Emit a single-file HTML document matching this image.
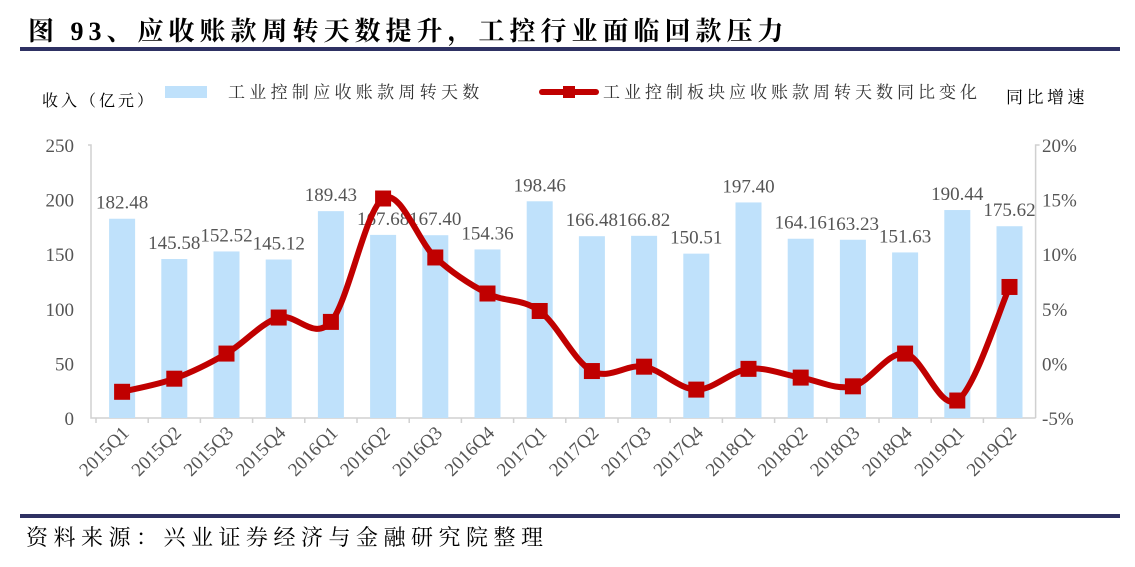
<!DOCTYPE html>
<html><head><meta charset="utf-8"><style>
body{margin:0;background:#fff;width:1135px;height:562px;overflow:hidden;font-family:"Liberation Serif","Noto Serif CJK SC",serif}
</style></head><body>
<svg width="1135" height="562" xmlns="http://www.w3.org/2000/svg">
<text x="28" y="40" font-size="26" font-weight="bold" letter-spacing="5" fill="#000" font-family="Liberation Serif, Noto Serif CJK SC, serif">图 93、应收账款周转天数提升，工控行业面临回款压力</text>
<rect x="20" y="47" width="1100" height="4" fill="#2e3163"/>
<rect x="20" y="514" width="1100" height="4" fill="#2e3163"/>
<text x="26" y="545" font-size="22" letter-spacing="5.5" fill="#000" font-family="Liberation Serif, Noto Serif CJK SC, serif">资料来源：兴业证券经济与金融研究院整理</text>
<text x="42" y="106" font-size="16" letter-spacing="3" fill="#000" font-family="Liberation Serif, Noto Serif CJK SC, serif">收入（亿元）</text>
<text x="1006" y="103" font-size="17" letter-spacing="3.5" fill="#000" font-family="Liberation Serif, Noto Serif CJK SC, serif">同比增速</text>
<rect x="165" y="86" width="42" height="12" fill="#bfe1fb"/>
<text x="228" y="98" font-size="17" letter-spacing="4.3" fill="#333" font-family="Liberation Serif, Noto Serif CJK SC, serif">工业控制应收账款周转天数</text>
<line x1="542" y1="92" x2="596" y2="92" stroke="#c00000" stroke-width="6" stroke-linecap="round"/>
<rect x="563" y="86" width="12" height="12" fill="#c00000"/>
<text x="603" y="98" font-size="17" letter-spacing="4" fill="#333" font-family="Liberation Serif, Noto Serif CJK SC, serif">工业控制板块应收账款周转天数同比变化</text>
<g id="plot"></g>
</svg>
<script>
const categories=["2015Q1","2015Q2","2015Q3","2015Q4","2016Q1","2016Q2","2016Q3","2016Q4","2017Q1","2017Q2","2017Q3","2017Q4","2018Q1","2018Q2","2018Q3","2018Q4","2019Q1","2019Q2"];
const barValues=[182.48,145.58,152.52,145.12,189.43,167.68,167.40,154.36,198.46,166.48,166.82,150.51,197.40,164.16,163.23,151.63,190.44,175.62];
const growthValues=[-2.6,-1.4,0.9,4.2,3.8,15.1,9.7,6.4,4.8,-0.7,-0.3,-2.4,-0.5,-1.3,-2.1,0.9,-3.4,7.0];
const leftTicks=[0,50,100,150,200,250];
const rightTicks=[-5,0,5,10,15,20];
const NS="http://www.w3.org/2000/svg";
const g=document.getElementById('plot');
const x0=96,band=52.2,yB=418,yT=145;
const xC=i=>x0+band*(i+0.5);
const yL=v=>yB-(v/250)*(yB-yT);
const yR=v=>yB-((v+5)/25)*(yB-yT);
function el(t,a){const e=document.createElementNS(NS,t);for(const k in a)e.setAttribute(k,a[k]);g.appendChild(e);return e;}
leftTicks.forEach(v=>{const t=el('text',{x:74,y:yL(v)+7,'font-size':19,fill:'#555','text-anchor':'end'});t.textContent=v;

});
rightTicks.forEach(v=>{const t=el('text',{x:1042,y:yR(v)+7,'font-size':19,fill:'#555'});t.textContent=v+'%';

});
const ax=el('path',{d:`M88 ${yT}H91V${yB}H${x0+band*18}`,stroke:'#d0d0d0','stroke-width':1.5,fill:'none'});


const rax=el('path',{d:`M${x0+band*18} ${yB}V${yT}H${x0+band*18+4}`,stroke:'#d0d0d0','stroke-width':1.5,fill:'none'});


categories.forEach((c,i)=>{
 const tk=el('line',{x1:x0+band*i,x2:x0+band*i,y1:yB,y2:yB+5,stroke:'#d0d0d0','stroke-width':1.5});
 
 
 const b=el('rect',{x:xC(i)-13,y:yL(barValues[i]),width:26,height:yB-yL(barValues[i]),fill:'#bfe1fb'});
 
 
 const l=el('text',{x:xC(i),y:yL(barValues[i])-10,'font-size':19,fill:'#555','text-anchor':'middle'});l.textContent=barValues[i].toFixed(2);
 
 
 const cx=xC(i)+8,cy=yB+16;
 const t=el('text',{x:cx,y:cy,'font-size':19,fill:'#555','text-anchor':'end',transform:`rotate(-45 ${cx} ${cy})`});t.textContent=c;
 
 
});
const pts=growthValues.map((v,i)=>[xC(i),yR(v)]);
let d=`M${pts[0][0]} ${pts[0][1]}`;
for(let i=0;i<pts.length-1;i++){const p0=pts[Math.max(0,i-1)],p1=pts[i],p2=pts[i+1],p3=pts[Math.min(pts.length-1,i+2)];
 d+=` C${p1[0]+(p2[0]-p0[0])/6} ${p1[1]+(p2[1]-p0[1])/6} ${p2[0]-(p3[0]-p1[0])/6} ${p2[1]-(p3[1]-p1[1])/6} ${p2[0]} ${p2[1]}`;}
const ln=el('path',{d:d,stroke:'#c00000','stroke-width':6,fill:'none'});


pts.forEach((p,i)=>{const m=el('rect',{x:p[0]-8,y:p[1]-8,width:16,height:16,fill:'#c00000'});
 
 });
</script>
</body></html>
